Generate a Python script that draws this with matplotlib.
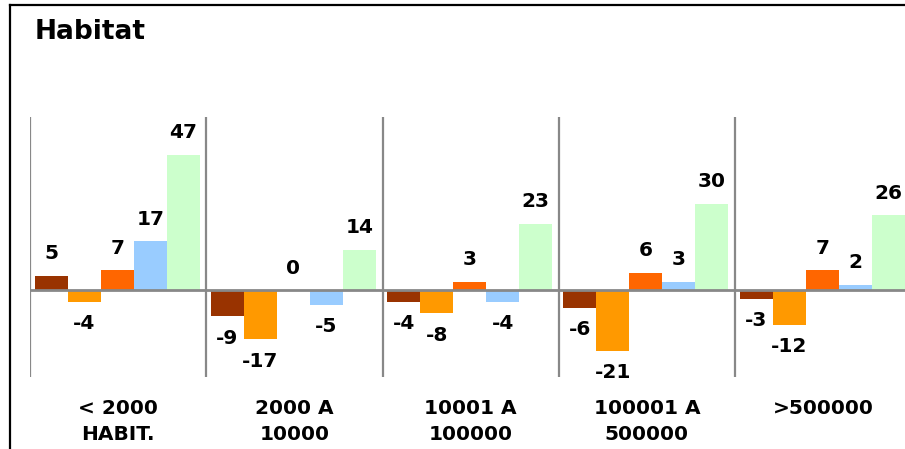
import matplotlib
matplotlib.use("Agg")
import matplotlib.pyplot as plt
from matplotlib.lines import Line2D

categories = ["< 2000\nHABIT.", "2000 A\n10000", "10001 A\n100000", "100001 A\n500000", ">500000"]
series1 = [5, -9, -4, -6, -3]
series2 = [-4, -17, -8, -21, -12]
series3 = [7, 0, 3, 6, 7]
series4 = [17, -5, -4, 3, 2]
series5 = [47, 14, 23, 30, 26]
series = [series1, series2, series3, series4, series5]
colors = ["#993300", "#FF9900", "#FF6600", "#99CCFF", "#CCFFCC"]
title = "Habitat"

W, H = 905, 449
fig = plt.figure(figsize=(W / 100, H / 100), dpi=100)
fig.patch.set_facecolor("white")

ax_left, ax_right, ax_top, ax_bot = 30, 905, 117, 377
ax = fig.add_axes([ax_left / W, 1 - ax_bot / H, (ax_right - ax_left) / W, (ax_bot - ax_top) / H])
group_px = 176.25
ax.set_xlim(-0.5, -0.5 + (ax_right - ax_left) / group_px)
ax.set_ylim(-30, 60)
for s in ax.spines.values():
    s.set_visible(False)
ax.set_xticks([])
ax.set_yticks([])

w = 33.0 / group_px
px_per_unit = (ax_bot - ax_top) / 90.0
off = 22 / px_per_unit
for j, vals in enumerate(series):
    xs = [i + (j - 2) * w - 0.005 for i in range(len(vals))]
    ax.bar(xs, vals, width=w, color=colors[j], zorder=2, linewidth=0)
    for x, v in zip(xs, vals):
        y = v + off if v >= 0 else v - off
        ax.text(x, y, str(v), ha="center", va="center", fontsize=14.5,
                fontweight="bold", color="black", clip_on=False, zorder=4)

for k in range(len(categories)):
    ax.axvline(k - 0.5, color="#888888", lw=1.6, zorder=1)
ax.axhline(0, color="#888888", lw=2, zorder=3)

for i, c in enumerate(categories):
    fig.text((ax_left + (i + 0.5) * group_px) / W, 1 - 399 / H, c, ha="center", va="top",
             fontsize=14.5, fontweight="bold", linespacing=1.5)

fig.text(35 / W, 1 - 32 / H, title, ha="left", va="center", fontsize=19, fontweight="bold")

fig.add_artist(Line2D([10 / W, 10 / W], [0, 1 - 5 / H], color="black", lw=1.6, transform=fig.transFigure))
fig.add_artist(Line2D([10 / W, 1], [1 - 5 / H, 1 - 5 / H], color="black", lw=1.6, transform=fig.transFigure))

fig.savefig("out.png", dpi=100)
